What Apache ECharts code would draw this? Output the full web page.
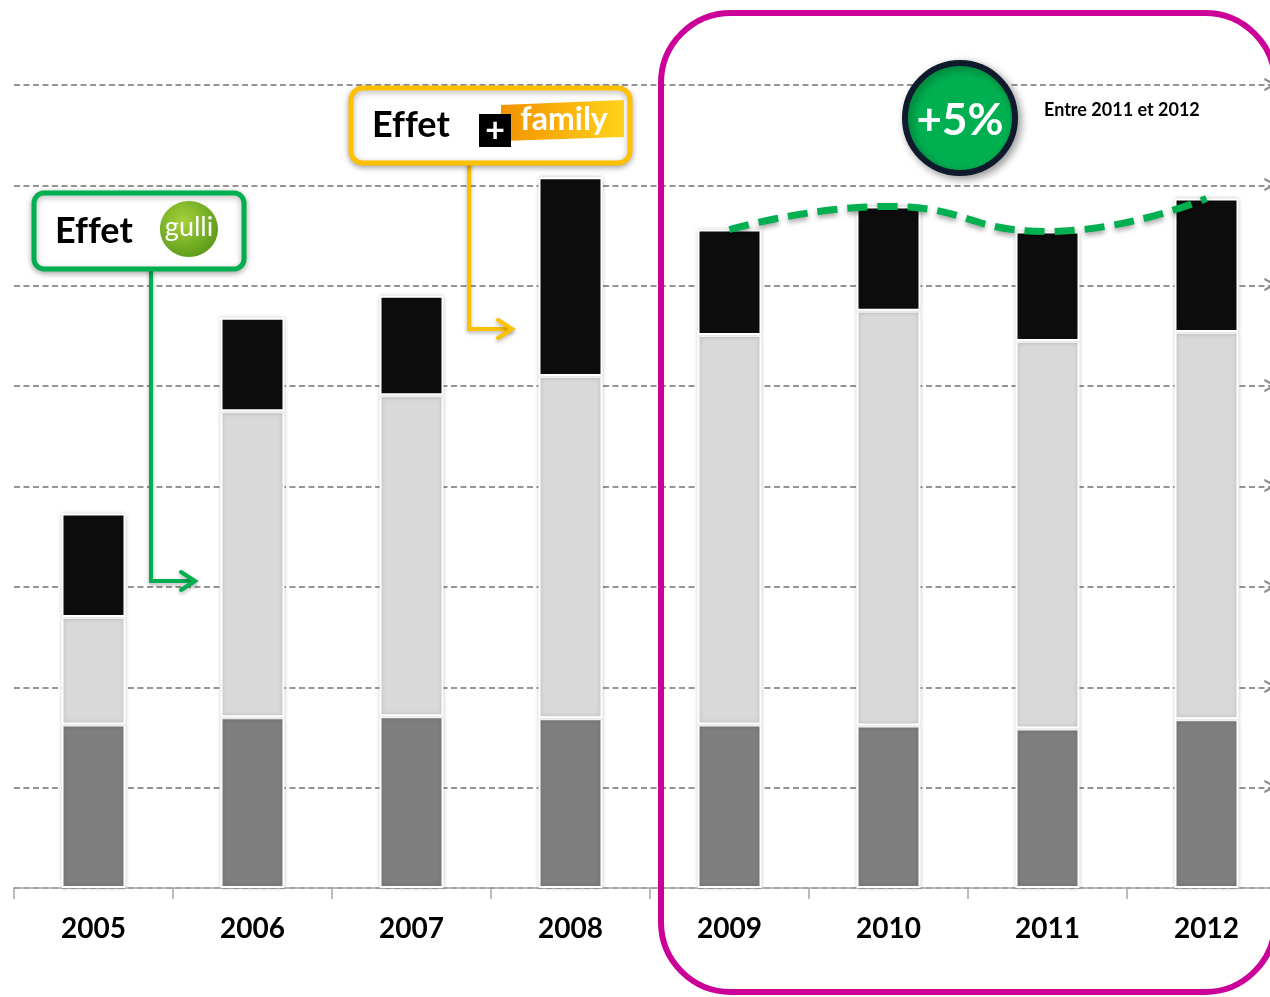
<!DOCTYPE html>
<html>
<head>
<meta charset="utf-8">
<title>Effet Gulli / Family</title>
<script src="https://cdn.jsdelivr.net/npm/echarts@6/dist/echarts.min.js"></script>
<style>
	html, body { margin: 0; padding: 0; background: #fff; }
	#main { width: 1270px; height: 997px; }
</style>
</head>
<body>
<div id="main"></div>
<script>
	// categories (x axis)
	var years = [ '2005', '2006', '2007', '2008', '2009', '2010', '2011', '2012' ];
	// stacked segments, bottom to top (1 = one grid step)
	var darkPart = [ 1.63, 1.70, 1.71, 1.69, 1.63, 1.62, 1.59, 1.68 ];
	var lightPart = [ 1.07, 3.05, 3.20, 3.41, 3.88, 4.13, 3.86, 3.86 ];
	var blackPart = [ 1.03, 0.93, 0.99, 1.98, 1.05, 1.04, 1.09, 1.33 ];
	// years joined by the green dashed trend
	var trendYears = [ '2009', '2010', '2011', '2012' ];
	// y axis range
	var yMin = 0, yMax = 8, yStep = 1;

	var FONT = 'Lato, "Open Sans", sans-serif';

	// total height of each stacked bar, used by the trend line
	function trendData() {
		var arr = [];
		for ( var i = 0; i < years.length; i++) {
			if (trendYears.indexOf(years[i]) >= 0) {
				arr.push(+(darkPart[i] + lightPart[i] + blackPart[i]).toFixed(2));
			} else {
				arr.push('-');
			}
		}
		return arr;
	}

	function barSeries(name, data, color) {
		return {
			name : name,
			type : 'bar',
			stack : 'total',
			barWidth : 64,
			data : data,
			itemStyle : {
				color : color,
				borderColor : '#ffffff',
				borderWidth : 2,
				shadowColor : 'rgba(0,0,0,0.18)',
				shadowBlur : 4
			},
			z : 2
		};
	}

	// connector with an arrow head: down then right
	function connector(x, y1, y2, x2, color) {
		return [ {
			type : 'polyline',
			shape : { points : [ [ x, y1 ], [ x, y2 ], [ x2, y2 ] ] },
			style : { stroke : color, lineWidth : 4, fill : null,
				shadowColor : 'rgba(0,0,0,0.3)', shadowBlur : 4, shadowOffsetY : 2 },
			z : 20
		}, {
			type : 'polyline',
			shape : { points : [ [ x2 - 14, y2 - 9 ], [ x2, y2 ], [ x2 - 14, y2 + 9 ] ] },
			style : { stroke : color, lineWidth : 4, fill : null, lineCap : 'round',
				shadowColor : 'rgba(0,0,0,0.3)', shadowBlur : 4, shadowOffsetY : 2 },
			z : 20
		} ];
	}

	var graphics = [];

	// magenta frame around 2009-2012
	graphics.push({
		type : 'rect',
		shape : { x : 661, y : 13, width : 614, height : 979, r : 70 },
		style : { stroke : '#cc0099', lineWidth : 6, fill : null },
		z : 30
	});

	// green box "Effet gulli"
	graphics.push({
		type : 'rect',
		shape : { x : 34, y : 193, width : 210, height : 76, r : 10 },
		style : { fill : '#ffffff', stroke : '#00b050', lineWidth : 5,
			shadowColor : 'rgba(0,0,0,0.3)', shadowBlur : 6, shadowOffsetY : 2 },
		z : 21
	});
	graphics.push({
		type : 'text', x : 55, y : 231,
		// ZWNJ keeps the two f apart (no ligature)
		style : { text : 'Ef\u200Cfet', font : 'bold 36px ' + FONT, fill : '#000', verticalAlign : 'middle' },
		z : 22
	});
	graphics.push({
		type : 'ellipse',
		shape : { cx : 189, cy : 229, rx : 29, ry : 28 },
		style : {
			fill : new echarts.graphic.RadialGradient(0.4, 0.35, 0.7, [
				{ offset : 0, color : '#a6d13a' }, { offset : 1, color : '#5b9a1a' } ])
		},
		z : 22
	});
	graphics.push({
		type : 'text', x : 189, y : 227,
		style : { text : 'gulli', font : '27px ' + FONT, fill : '#ffffff', align : 'center', verticalAlign : 'middle' },
		z : 23
	});
	graphics = graphics.concat(connector(151, 269, 581, 195, '#00b050'));

	// orange box "Effet + family"
	graphics.push({
		type : 'rect',
		shape : { x : 351, y : 88, width : 279, height : 75, r : 12 },
		style : { fill : '#ffffff', stroke : '#ffc000', lineWidth : 5,
			shadowColor : 'rgba(0,0,0,0.3)', shadowBlur : 6, shadowOffsetY : 2 },
		z : 21
	});
	graphics.push({
		type : 'text', x : 372, y : 125,
		style : { text : 'Ef\u200Cfet', font : 'bold 36px ' + FONT, fill : '#000', verticalAlign : 'middle' },
		z : 22
	});
	graphics.push({
		type : 'polygon',
		shape : { points : [ [ 501, 105 ], [ 624, 100 ], [ 624, 137 ], [ 501, 141 ] ] },
		style : {
			fill : new echarts.graphic.LinearGradient(0, 0, 1, 0, [
				{ offset : 0, color : '#f39200' }, { offset : 1, color : '#ffd21a' } ])
		},
		z : 22
	});
	graphics.push({
		type : 'text', x : 564, y : 120,
		style : { text : 'family', font : 'bold 32px ' + FONT, fill : '#ffffff', align : 'center', verticalAlign : 'middle' },
		z : 23
	});
	graphics.push({
		type : 'rect',
		shape : { x : 479, y : 114, width : 32, height : 33 },
		style : { fill : '#000000' },
		z : 24
	});
	graphics.push({
		type : 'text', x : 495, y : 131,
		style : { text : '+', font : 'bold 34px ' + FONT, fill : '#ffffff', align : 'center', verticalAlign : 'middle' },
		z : 25
	});
	graphics = graphics.concat(connector(469, 163, 329, 512, '#ffc000'));

	// +5% badge
	graphics.push({
		type : 'circle',
		shape : { cx : 960, cy : 118, r : 55 },
		style : { fill : '#00b050', stroke : '#0f1b2d', lineWidth : 6,
			shadowColor : 'rgba(0,0,0,0.35)', shadowBlur : 8, shadowOffsetX : 3, shadowOffsetY : 3 },
		z : 21
	});
	graphics.push({
		type : 'text', x : 960, y : 121,
		style : { text : '+5%', font : 'bold 44px ' + FONT, fill : '#ffffff', align : 'center', verticalAlign : 'middle' },
		z : 22
	});
	graphics.push({
		type : 'text', x : 1044, y : 110,
		style : { text : 'Entre 2011 et 2012', font : 'bold 18px ' + FONT, fill : '#000000', verticalAlign : 'middle' },
		z : 22
	});

	var option = {
		animation : false,
		backgroundColor : '#ffffff',
		grid : {
			left : 14,
			top : 85,
			width : 1272,
			height : 803,
			containLabel : false,
			outerBoundsMode : 'none'
		},
		xAxis : {
			type : 'category',
			data : years,
			boundaryGap : true,
			axisLine : { lineStyle : { color : '#a6a6a6', width : 1.5 } },
			axisTick : { show : true, length : 11, lineStyle : { color : '#a6a6a6', width : 1.5 } },
			axisLabel : { color : '#000', fontFamily : FONT, fontWeight : 'bold', fontSize : 28, margin : 27 }
		},
		yAxis : {
			type : 'value',
			min : yMin,
			max : yMax,
			interval : yStep,
			axisLine : { show : false },
			axisTick : { show : false },
			axisLabel : { show : false },
			splitLine : { lineStyle : { color : '#959595', width : 2, type : [ 6, 3.5 ] } }
		},
		series : [
			barSeries('dark', darkPart, '#7f7f7f'),
			barSeries('light', lightPart, '#d9d9d9'),
			barSeries('black', blackPart, '#0d0d0d'),
			{
				name : 'trend',
				type : 'line',
				data : trendData(),
				smooth : 0.5,
				symbol : 'none',
				connectNulls : false,
				lineStyle : {
					color : '#00b050',
					width : 7,
					type : [ 20, 10 ],
					shadowColor : 'rgba(0,0,0,0.35)',
					shadowBlur : 5,
					shadowOffsetY : 3
				},
				z : 10
			}
		],
		graphic : graphics
	};

	var myChart = echarts.init(document.getElementById('main'));
	myChart.setOption(option);

	// clipped ">" marks at the right end of each grid line
	var marks = [];
	for ( var v = yMin + yStep; v <= yMax; v += yStep) {
		var py = myChart.convertToPixel({ yAxisIndex : 0 }, v);
		marks.push({
			type : 'text', x : 1261, y : py,
			style : { text : '>', font : '30px ' + FONT, fill : '#8c8c8c', verticalAlign : 'middle' },
			z : 5
		});
	}
	myChart.setOption({ graphic : graphics.concat(marks) });
</script>
</body>
</html>
